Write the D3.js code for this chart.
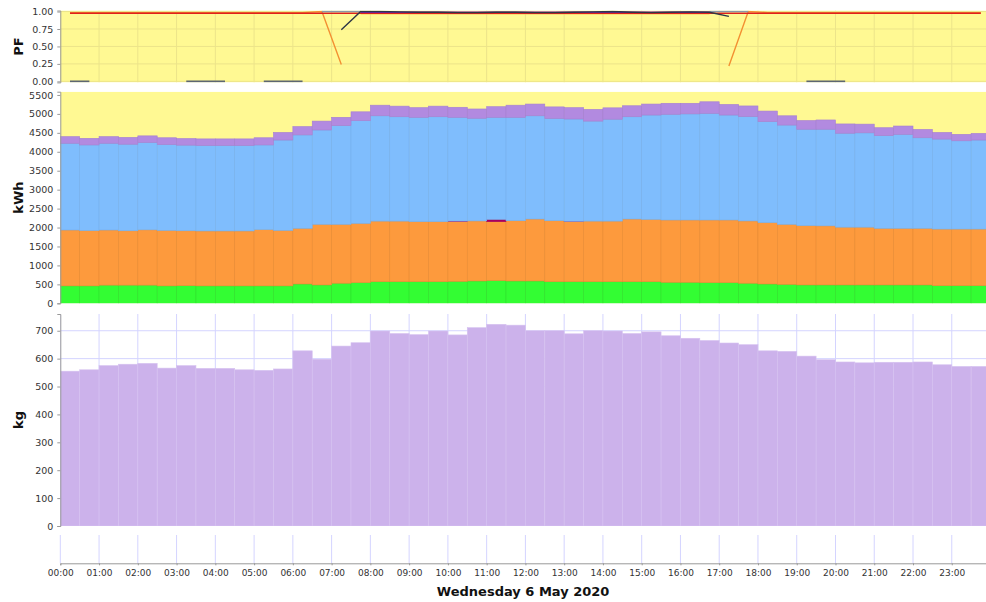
<!DOCTYPE html>
<html>
<head>
<meta charset="utf-8">
<script src="https://cdn.jsdelivr.net/npm/d3@7"></script>
<style>
  body { margin: 0; background: #fff; }
  text { font-family: "DejaVu Sans", sans-serif; }
</style>
</head>
<body>
<div id="chart"></div>
<script>
// half hour slots of the day
const day = new Date(2020, 4, 6);
const slots = d3.timeMinute.every(30).range(day, new Date(2020, 4, 7));

// kWh stacked series (bottom to top)
const kwhGreen  = [460,460,480,480,480,460,465,460,460,460,460,460,510,485,530,545,570,570,570,570,580,590,600,590,
                   590,570,570,570,570,570,570,555,555,545,545,530,510,500,485,485,485,485,485,485,485,465,465,465];
const kwhOrange = [1475,1460,1455,1435,1460,1465,1450,1450,1450,1450,1485,1465,1470,1600,1555,1565,1600,1600,1585,1585,1575,1585,1555,1590,
                   1635,1610,1585,1600,1600,1655,1645,1645,1645,1655,1655,1645,1620,1585,1565,1560,1525,1525,1495,1495,1495,1495,1495,1495];
const kwhRed    = [0,0,0,0,0,0,0,0,0,0,0,0,0,0,0,0,0,0,0,0,15,0,60,0,
                   0,0,10,0,0,0,0,0,0,0,0,0,0,0,0,0,0,0,0,0,0,0,0,0];
const kwhBlue   = [2290,2260,2290,2285,2305,2265,2260,2255,2255,2255,2235,2385,2465,2490,2605,2710,2780,2755,2755,2770,2740,2710,2695,2730,
                   2725,2700,2700,2640,2690,2700,2755,2790,2800,2815,2770,2755,2665,2620,2545,2550,2480,2490,2445,2480,2390,2375,2330,2350];
const kwhPurple = [175,175,175,180,175,180,175,175,175,175,190,200,220,235,220,235,280,280,255,280,265,245,280,320,
                   310,305,300,310,300,290,290,290,280,305,280,280,280,245,230,245,245,230,210,220,220,175,170,175];

// kg per half hour
const kgValues = [555,560,575,580,583,566,575,565,565,560,558,563,628,598,645,657,699,690,686,699,685,711,723,720,
                  700,700,689,700,699,690,696,682,673,665,656,650,628,626,609,596,588,585,587,587,588,578,572,572];

// power factor, plotted at the middle of each slot
const pfRed      = [0.975,0.975,0.975,0.975,0.975,0.975,0.975,0.975,0.975,0.975,0.975,0.975,0.975,0.975,0.975,0.975,0.975,0.975,0.975,0.975,0.975,0.975,0.975,0.975,
                    0.975,0.975,0.975,0.975,0.975,0.975,0.975,0.975,0.975,0.975,0.975,0.975,0.975,0.975,0.975,0.975,0.975,0.975,0.975,0.975,0.975,0.975,0.975,0.975];
const pfOrange   = [0.985,0.985,0.985,0.985,0.985,0.985,0.985,0.985,0.985,0.985,0.985,0.985,0.985,1.0,0.24,null,null,null,null,null,null,null,null,null,
                    null,null,null,null,null,null,null,null,null,null,0.22,1.0,0.985,0.985,0.985,0.985,0.985,0.985,0.985,0.985,0.985,0.985,0.985,0.985];
const pfGold     = [null,null,null,null,null,null,null,null,null,null,null,null,null,null,null,0.965,0.965,0.965,0.965,0.965,0.965,0.965,0.965,0.965,
                    0.965,0.965,0.965,0.965,0.965,0.965,0.965,0.965,0.965,0.965,null,null,null,null,null,null,null,null,null,null,null,null,null,null];
const pfGreyLow  = [0,0,null,null,null,null,0,0,0,null,0,0,0,null,null,null,null,null,null,null,null,null,null,null,
                    null,null,null,null,null,null,null,null,null,null,null,null,null,null,0,0,0,null,null,null,null,null,null,null];
const pfGreyHigh = [null,null,null,null,null,null,null,null,null,null,null,null,null,1.0,1.0,1.0,null,null,null,null,null,null,null,null,
                    null,null,null,null,null,null,null,null,null,1.0,1.0,1.0,null,null,null,null,null,null,null,null,null,null,null,null];
const pfPurple   = [null,null,null,null,null,null,null,null,null,null,null,null,null,null,null,0.99,0.99,0.99,0.99,0.99,0.99,0.99,0.99,0.99,
                    0.99,0.99,0.99,0.99,0.99,0.99,0.99,0.99,0.99,0.99,null,null,null,null,null,null,null,null,null,null,null,null,null,null];
const pfDark     = [null,null,null,null,null,null,null,null,null,null,null,null,null,null,0.74,1.0,1.0,0.995,0.99,0.99,0.985,0.985,0.99,0.99,
                    0.985,0.985,0.99,0.995,1.0,0.99,0.985,0.99,0.995,0.99,0.93,null,null,null,null,null,null,null,null,null,null,null,null,null];

const yTicksPF  = [0, 0.25, 0.5, 0.75, 1.0];
const yTicksKwh = [0,500,1000,1500,2000,2500,3000,3500,4000,4500,5000,5500];
const yTicksKg  = [0,100,200,300,400,500,600,700];

// layout
const width = 986, height = 602;
const left = 60.3, right = 986;
const pfBox   = {top: 10.5, bottom: 82.4};
const kwhBox  = {top: 91.7, bottom: 303.3};
const kgBox   = {top: 314,  bottom: 526};
const timeBox = {top: 535,  bottom: 563.3};

const svg = d3.select("#chart").append("svg")
  .attr("width", width)
  .attr("height", height);

const x = d3.scaleTime()
  .domain([day, new Date(2020, 4, 6, 23, 53)])
  .range([left, right]);
const halfHour = 30 * 60 * 1000;
const mid = d => new Date(+d + halfHour / 2);
const hours = x.ticks(d3.timeHour.every(1));

function clip(id, box) {
  svg.append("clipPath").attr("id", id)
    .append("rect")
      .attr("x", left).attr("y", box.top)
      .attr("width", right - left).attr("height", box.bottom - box.top);
}

function leftAxis(scale, ticks, fmt, label, labelY) {
  const g = svg.append("g")
    .attr("transform", `translate(${left}, 0)`)
    .call(d3.axisLeft(scale).tickValues(ticks).tickFormat(fmt).tickSize(3).tickPadding(4));
  g.select(".domain").attr("stroke", "#999");
  g.selectAll(".tick line").attr("stroke", "#999");
  g.selectAll(".tick text").attr("fill", "#333").attr("font-size", "9.5px");
  svg.append("text")
    .attr("transform", `translate(23, ${labelY}) rotate(-90)`)
    .attr("text-anchor", "middle")
    .attr("font-size", "13px")
    .attr("font-weight", "bold")
    .attr("fill", "#111")
    .text(label);
}

// ---------- PF panel ----------
const yPF = d3.scaleLinear().domain([-0.015, 1.015]).range([pfBox.bottom, pfBox.top]);
clip("clipPF", pfBox);
const pfG = svg.append("g").attr("clip-path", "url(#clipPF)");
pfG.append("rect")
  .attr("x", left).attr("y", pfBox.top)
  .attr("width", right - left).attr("height", pfBox.bottom - pfBox.top)
  .attr("fill", "#fff993");
pfG.selectAll(".vgrid").data(hours).join("line")
  .attr("x1", d => x(d)).attr("x2", d => x(d))
  .attr("y1", pfBox.top).attr("y2", pfBox.bottom)
  .attr("stroke", "#ece48a").attr("stroke-width", 1);
pfG.selectAll(".hgrid").data(yTicksPF).join("line")
  .attr("x1", left).attr("x2", right)
  .attr("y1", d => yPF(d)).attr("y2", d => yPF(d))
  .attr("stroke", "#ece48a").attr("stroke-width", 1);

const pfSeries = [
  {values: pfGold,     color: "#f3c850", w: 1.2},
  {values: pfOrange,   color: "#f39032", w: 1.4},
  {values: pfRed,      color: "#e0201c", w: 1.4},
  {values: pfGreyLow,  color: "#5d6673", w: 1.6},
  {values: pfGreyHigh, color: "#8a98a8", w: 1.6},
  {values: pfPurple,   color: "#7a22a8", w: 1.6},
  {values: pfDark,     color: "#2e3646", w: 1.4}
];
const pfLine = d3.line()
  .defined(d => d.v !== null)
  .x(d => x(mid(d.t)))
  .y(d => yPF(d.v));
pfG.selectAll(".pfline").data(pfSeries).join("path")
  .attr("fill", "none")
  .attr("stroke", s => s.color)
  .attr("stroke-width", s => s.w)
  .attr("d", s => pfLine(slots.map((t, i) => ({t: t, v: s.values[i]}))));
leftAxis(yPF, yTicksPF, d3.format(".2f"), "PF", (pfBox.top + pfBox.bottom) / 2);

// ---------- kWh panel ----------
const yKwh = d3.scaleLinear().domain([0, 5586]).range([kwhBox.bottom, kwhBox.top]);
clip("clipKwh", kwhBox);
const kwhG = svg.append("g").attr("clip-path", "url(#clipKwh)");
kwhG.append("rect")
  .attr("x", left).attr("y", kwhBox.top)
  .attr("width", right - left).attr("height", kwhBox.bottom - kwhBox.top)
  .attr("fill", "#fff993");

const keys = ["green", "orange", "red", "blue", "purple"];
const colors = {green: "#33fd33", orange: "#fd9a3d", red: "#a8005e", blue: "#7fbdfd", purple: "#b28ae0"};
const edges  = {green: "#2ee02e", orange: "#e88a35", red: "#a8005e", blue: "#76b0ee", purple: "#a57fd2"};
const rows = slots.map((t, i) => ({
  t: t, green: kwhGreen[i], orange: kwhOrange[i], red: kwhRed[i], blue: kwhBlue[i], purple: kwhPurple[i]
}));
const stacked = d3.stack().keys(keys)(rows);

kwhG.selectAll(".layer").data(stacked).join("g")
  .attr("fill", d => colors[d.key])
  .attr("stroke", d => edges[d.key])
  .attr("stroke-width", 0.6)
  .selectAll("rect")
  .data(d => d.filter(p => p[1] > p[0]))
  .join("rect")
    .attr("x", d => x(d.data.t))
    .attr("width", d => x(new Date(+d.data.t + halfHour)) - x(d.data.t))
    .attr("y", d => yKwh(d[1]))
    .attr("height", d => yKwh(d[0]) - yKwh(d[1]));
leftAxis(yKwh, yTicksKwh, d3.format("d"), "kWh", (kwhBox.top + kwhBox.bottom) / 2);

// ---------- kg panel ----------
const yKg = d3.scaleLinear().domain([0, 760]).range([kgBox.bottom, kgBox.top]);
clip("clipKg", kgBox);
const kgG = svg.append("g").attr("clip-path", "url(#clipKg)");
kgG.selectAll(".vgrid").data(hours).join("line")
  .attr("x1", d => x(d)).attr("x2", d => x(d))
  .attr("y1", kgBox.top).attr("y2", kgBox.bottom)
  .attr("stroke", "#d4d4ff");
kgG.selectAll(".hgrid").data(yTicksKg).join("line")
  .attr("x1", left).attr("x2", right)
  .attr("y1", d => yKg(d)).attr("y2", d => yKg(d))
  .attr("stroke", "#d4d4ff");
kgG.selectAll(".kgbar").data(slots).join("rect")
  .attr("x", d => x(d))
  .attr("width", d => x(new Date(+d + halfHour)) - x(d))
  .attr("y", (d, i) => yKg(kgValues[i]))
  .attr("height", (d, i) => yKg(0) - yKg(kgValues[i]))
  .attr("fill", "#ccb2eb")
  .attr("stroke", "#d6c2f0")
  .attr("stroke-width", 0.6);
leftAxis(yKg, yTicksKg, d3.format("d"), "kg", (kgBox.top + kgBox.bottom) / 2);

// ---------- time axis ----------
svg.append("g").selectAll("line").data(hours).join("line")
  .attr("x1", d => x(d)).attr("x2", d => x(d))
  .attr("y1", timeBox.top).attr("y2", timeBox.bottom)
  .attr("stroke", "#d4d4ff");
const xAxis = svg.append("g")
  .attr("transform", `translate(0, ${timeBox.bottom})`)
  .call(d3.axisBottom(x).ticks(d3.timeHour.every(1)).tickFormat(d3.timeFormat("%H:%M")).tickSize(2).tickPadding(4));
xAxis.select(".domain").attr("stroke", "#999");
xAxis.selectAll(".tick line").attr("stroke", "#999");
xAxis.selectAll(".tick text").attr("fill", "#333").attr("font-size", "9px");

svg.append("text")
  .attr("x", (left + right) / 2)
  .attr("y", 596)
  .attr("text-anchor", "middle")
  .attr("font-size", "13px")
  .attr("font-weight", "bold")
  .attr("fill", "#111")
  .text("Wednesday 6 May 2020");
</script>
</body>
</html>
